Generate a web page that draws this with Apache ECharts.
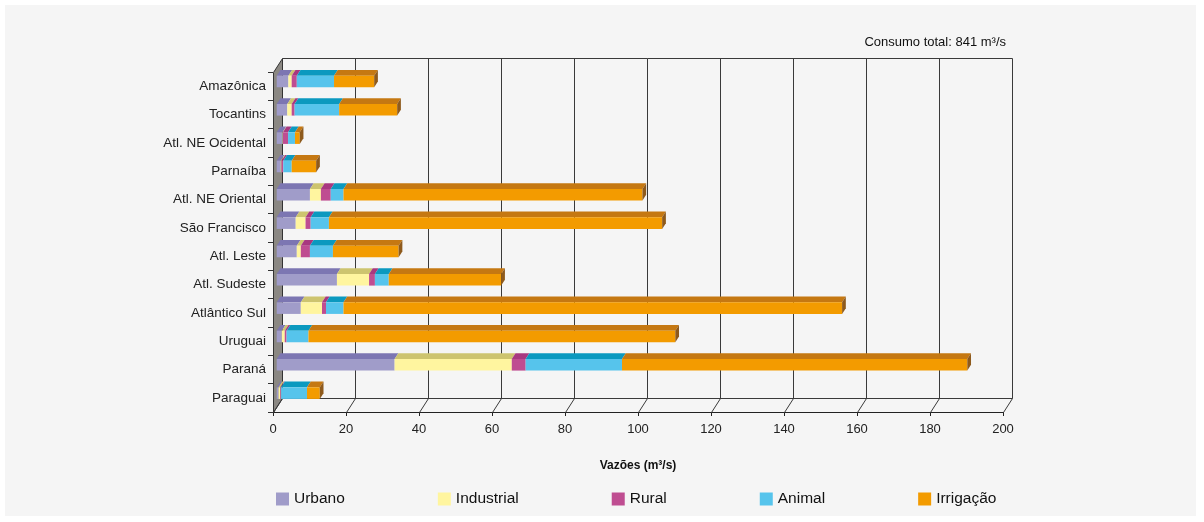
<!DOCTYPE html>
<html>
<head>
<meta charset="utf-8">
<script src="https://cdn.jsdelivr.net/npm/echarts@6/dist/echarts.min.js"></script>
<style>
html,body{margin:0;padding:0;background:#ffffff;}
#chart{width:1204px;height:522px;}
</style>
</head>
<body>
<div id="chart"></div>
<script>
// ---- data ----
const categories = ['Amazônica','Tocantins','Atl. NE Ocidental','Parnaíba','Atl. NE Oriental','São Francisco','Atl. Leste','Atl. Sudeste','Atlântico Sul','Uruguai','Paraná','Paraguai'];
const urbano     = [3.2, 2.9, 1.6, 1.1, 9.1, 5.2, 5.5, 16.5, 6.6, 1.4, 32.3, 0.5];
const industrial = [0.9, 1.2, 0.1, 0.2, 3.0, 2.7, 1.1, 8.8, 5.8, 0.8, 32.1, 0.5];
const rural      = [1.4, 0.8, 1.4, 0.5, 2.7, 1.4, 2.5, 1.6, 1.1, 0.5, 3.8, 0.2];
const animal     = [10.2, 12.2, 1.9, 2.3, 3.5, 5.0, 6.3, 3.8, 4.8, 6.0, 26.4, 7.1];
const irrigacao  = [11.0, 15.9, 1.3, 6.7, 81.9, 91.3, 18.0, 30.8, 136.6, 100.5, 94.6, 3.5];
const seriesNames = ['Urbano','Industrial','Rural','Animal','Irrigação'];
const xTicks = [0,20,40,60,80,100,120,140,160,180,200];
const totalLabel = 'Consumo total: 841 m³/s';
const axisTitle = 'Vazões (m³/s)';

// ---- style ----
const frontColors = ['#a09cc9','#fff59f','#bf4d91','#56c4ec','#f39b00'];
const topColors   = ['#7c76b2','#cdc46f','#a8387f','#0b99bf','#c57812'];
const sideColor = '#8e5a1c';
const DX = 9.3, DY = -14.3;      // depth offset of back wall
const F1 = 0.4, F2 = 0.8;        // bar depth range
const FACE = 0.41;               // face height / band
const FONT = "'Liberation Sans', Arial, sans-serif";

const allSeries = [urbano, industrial, rural, animal, irrigacao];
const cum = categories.map(() => 0);
const barSeries = allSeries.map((vals, si) => {
  const data = vals.map((v, ci) => {
    const s = cum[ci]; cum[ci] += v;
    return [s, cum[ci], ci];
  });
  return {
    type: 'custom',
    name: seriesNames[si],
    coordinateSystem: 'cartesian2d',
    z: 5,
    itemStyle: {color: frontColors[si]},
    encode: {x: [0, 1], y: 2},
    data: data,
    renderItem: function (params, api) {
      const s = api.coord([api.value(0), api.value(2)]);
      const e = api.coord([api.value(1), api.value(2)]);
      const band = api.size([0, 1])[1];
      const h = band * FACE;
      const ox = F1 * DX, oy = F1 * DY + 1;
      const tdx = (F2 - F1) * DX, tdy = (F2 - F1) * DY;
      const x0 = s[0] + ox, x1 = e[0] + ox;
      const yc = s[1] + oy;
      const yt = yc - h / 2, yb = yc + h / 2;
      if (x1 - x0 <= 0.01) return null;
      const children = [
        {type: 'polygon', shape: {points: [[x0, yt], [x1, yt], [x1 + tdx, yt + tdy], [x0 + tdx, yt + tdy]]},
         style: {fill: topColors[si]}},
        {type: 'rect', shape: {x: x0, y: yt, width: x1 - x0, height: h},
         style: {fill: frontColors[si]}}
      ];
      if (si === allSeries.length - 1) {
        children.push({type: 'polygon', shape: {points: [[x1, yt], [x1 + tdx, yt + tdy], [x1 + tdx, yb + tdy], [x1, yb]]},
          style: {fill: sideColor}});
      }
      return {type: 'group', children: children};
    }
  };
});

const lineCol = '#3a3a3a';
const frameSeries = {
  type: 'custom',
  name: 'frame',
  coordinateSystem: 'cartesian2d',
  z: 1,
  silent: true,
  encode: {x: 0, y: 1},
  data: xTicks.map(v => [v, 0]),
  renderItem: function (params, api) {
    const cs = params.coordSys;
    const v = api.value(0);
    const x = Math.round(api.coord([v, 0])[0]) + 0.5;
    const xEnd = Math.round(api.coord([xTicks[xTicks.length - 1], 0])[0]) + 0.5;
    const yb = Math.round(cs.y + cs.height) + 0.5, yt = Math.round(cs.y) + 0.5;
    const dx = Math.round(DX), dy = Math.round(DY);
    const ch = [];
    if (params.dataIndex === 0) {
      ch.push({type: 'polygon', shape: {points: [[x, yt], [x + dx, yt + dy], [x + dx, yb + dy], [x, yb]]},
        style: {fill: '#8b8883', stroke: '#333', lineWidth: 1}});
      ch.push({type: 'line', shape: {x1: x + dx, y1: yt + dy, x2: xEnd + dx, y2: yt + dy}, style: {stroke: lineCol, lineWidth: 1}});
      ch.push({type: 'line', shape: {x1: x + dx, y1: yb + dy, x2: xEnd + dx, y2: yb + dy}, style: {stroke: lineCol, lineWidth: 1}});
    } else {
      ch.push({type: 'line', shape: {x1: x + dx, y1: yt + dy, x2: x + dx, y2: yb + dy}, style: {stroke: lineCol, lineWidth: 1}});
    }
    ch.push({type: 'line', shape: {x1: x, y1: yb, x2: x + dx, y2: yb + dy}, style: {stroke: lineCol, lineWidth: 1}});
    return {type: 'group', children: ch};
  }
};

const chart = echarts.init(document.getElementById('chart'), null, {renderer: 'canvas'});
chart.setOption({
  animation: false,
  backgroundColor: '#ffffff',
  graphic: [{type: 'rect', z: -10, shape: {x: 5, y: 5, width: 1191, height: 511}, style: {fill: '#f5f5f5'}}],
  title: {
    text: totalLabel, right: 193, top: 31,
    textStyle: {fontFamily: FONT, fontSize: 13, fontWeight: 'normal', color: '#111'}
  },
  legend: {
    data: seriesNames, left: 271, top: 486, icon: 'rect', itemWidth: 13, itemHeight: 13, itemGap: 93,
    textStyle: {fontFamily: FONT, fontSize: 15.5, color: '#111'}
  },
  grid: {left: 273, top: 72, width: 730, height: 340, containLabel: false},
  xAxis: {
    type: 'value', min: 0, max: 200, interval: 20,
    name: axisTitle, nameLocation: 'middle', nameGap: 48,
    nameTextStyle: {fontFamily: FONT, fontSize: 12, fontWeight: 'bold', color: '#111'},
    axisLine: {show: true, lineStyle: {color: '#222'}},
    axisTick: {show: true, length: 4, lineStyle: {color: '#222'}},
    axisLabel: {fontFamily: FONT, fontSize: 13, color: '#222', margin: 11},
    splitLine: {show: false}
  },
  yAxis: {
    type: 'category', data: categories, inverse: true,
    axisLine: {show: false},
    axisTick: {show: true, length: 5, lineStyle: {color: '#333'}},
    axisLabel: {fontFamily: FONT, fontSize: 13.5, color: '#222', margin: 7},
    splitLine: {show: false}
  },
  series: [frameSeries].concat(barSeries)
});
</script>
</body>
</html>
